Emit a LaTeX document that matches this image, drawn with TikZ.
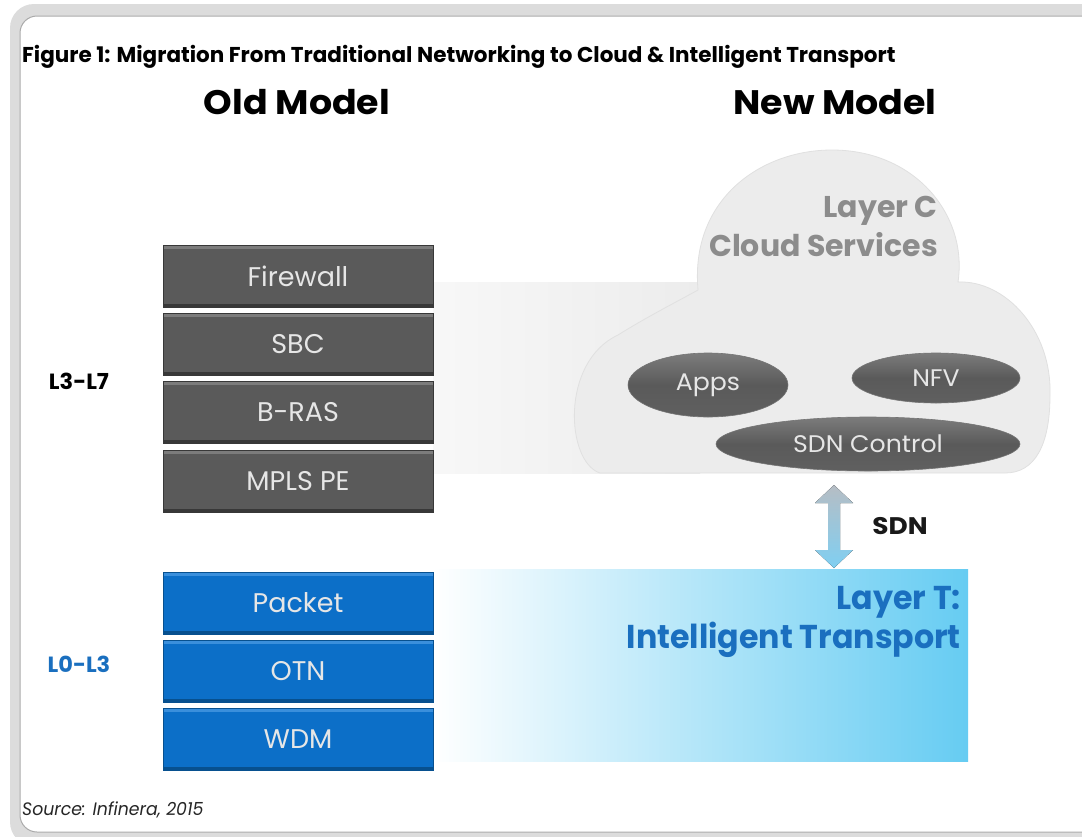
\documentclass[tikz,border=0pt]{standalone}
\usepackage{fontspec}
\setmainfont{Poppins}
\usetikzlibrary{shapes.geometric,calc}
\definecolor{framegray}{HTML}{DCDCDC}
\definecolor{frameline}{HTML}{ABABAB}
\definecolor{boxgray}{HTML}{5A5A5A}
\definecolor{boxgraylight}{HTML}{7C7C7C}
\definecolor{boxgraydark}{HTML}{383838}
\definecolor{boxblue}{HTML}{0C6FC8}
\definecolor{boxbluelight}{HTML}{3A8FDC}
\definecolor{boxbluedark}{HTML}{07508F}
\definecolor{boxtext}{HTML}{E6E6E6}
\definecolor{labelblue}{HTML}{1A6FBF}
\definecolor{cloudgray}{HTML}{ECECEC}
\definecolor{cloudtext}{HTML}{8C8C8C}
\definecolor{ltblue}{HTML}{66CCF2}
\definecolor{arrowtop}{HTML}{B6BDC4}
\definecolor{arrowbot}{HTML}{7FCFF2}
\newcommand{\sx}[2][0.86]{\scalebox{#1}[1]{#2}}
\tikzset{
  layerbox/.style={rectangle, minimum width=270pt, minimum height=62pt, inner sep=0pt,
    text=boxtext, font=\fontsize{27}{30}\selectfont},
  graybox/.style={layerbox, fill=boxgray, draw=boxgraydark, line width=1pt,
    path picture={
      \draw[boxgraylight, line width=3pt] ([yshift=-2pt]path picture bounding box.north west) -- ([yshift=-2pt]path picture bounding box.north east);
      \draw[boxgraydark, line width=3pt] ([yshift=2pt]path picture bounding box.south west) -- ([yshift=2pt]path picture bounding box.south east);}},
  bluebox/.style={layerbox, fill=boxblue, draw=boxbluedark, line width=1pt,
    path picture={
      \draw[boxbluelight, line width=3pt] ([yshift=-2pt]path picture bounding box.north west) -- ([yshift=-2pt]path picture bounding box.north east);
      \draw[boxbluedark, line width=3pt] ([yshift=2pt]path picture bounding box.south west) -- ([yshift=2pt]path picture bounding box.south east);}},
  pill/.style={ellipse, inner sep=0pt, top color=boxgraylight, bottom color=boxgraydark!80, middle color=boxgray,
    draw=boxgraydark!70, line width=0.6pt, text=boxtext, font=\fontsize{24}{28}\selectfont},
  heading/.style={font=\bfseries\fontsize{34}{38}\selectfont, text=black},
  sidelabel/.style={font=\bfseries\fontsize{22}{26}\selectfont},
  layertext/.style={align=right, anchor=north east, inner sep=0pt}
}
\begin{document}
\begin{tikzpicture}[x=1pt,y=-1pt]
\useasboundingbox (0,0) rectangle (1082,836);
% frame
\fill[white] (0,0) rectangle (1082,836);
\fill[framegray, rounded corners=24pt] (10,4) rectangle (1120,846);
\fill[white, rounded corners=17pt] (20,16) rectangle (1120,832);
\draw[frameline, line width=1pt, rounded corners=17pt] (1120,16) -- (20,16) -- (20,832) -- (1120,832);

% title
\node[anchor=base west, inner sep=0pt, font=\bfseries\fontsize{21.5}{24}\selectfont] (title) at (22,62) {\sx[1.0]{Figure 1: Migration From Traditional Networking to Cloud \& Intelligent Transport}};
\node[heading] (old) at (297,102) {\sx[1.07]{Old Model}};
\node[heading] (new) at (835,102) {\sx[1.07]{New Model}};

% gray band and cloud
\fill[left color=white!60!cloudgray, right color=cloudgray] (433,282) rectangle (700,473);
\path[fill=cloudgray, draw=cloudgray!95!black, line width=0.8pt]
  (600,473) .. controls (566,462) and (560,362) .. (618,335)
  .. controls (645,318) and (680,300) .. (698,290)
  .. controls (690,200) and (760,150) .. (832,150)
  .. controls (915,150) and (968,215) .. (958,282)
  .. controls (1005,280) and (1052,330) .. (1050,395)
  .. controls (1050,445) and (1035,473) .. (1005,473) -- cycle;

\node[layertext, text=cloudtext, font=\bfseries\fontsize{30}{39}\selectfont] (layerc) at (938,196) {\sx[1.0]{Layer C}\\\sx[1.0]{Cloud Services}};

\node[pill, minimum width=160pt, minimum height=64pt] (apps) at (708,385) {\sx[1.05]{Apps}};
\node[pill, minimum width=168pt, minimum height=50pt] (nfv) at (936,378) {\sx[1.05]{NFV}};
\node[pill, minimum width=304pt, minimum height=54pt] (sdnc) at (868,444) {\sx[1.05]{SDN Control}};

% layer T
\node[rectangle, inner sep=0pt, minimum width=535pt, minimum height=192pt, left color=white, right color=ltblue, anchor=north west] (layert) at (433,569) {};
\node[layertext, text=labelblue, font=\bfseries\fontsize{33}{39}\selectfont] (layerttext) at (961,586) {\sx[0.96]{Layer T:}\\\sx[0.96]{Intelligent Transport}};

% SDN arrow
\coordinate (atop) at (834,485);
\coordinate (abot) at (834,568);
\fill[top color=arrowtop, bottom color=arrowbot]
  (atop) -- ++(19,18) -- ++(-13,0) -- ++(0,47) -- ++(13,0) -- (abot) -- ++(-19,-18) -- ++(13,0) -- ++(0,-47) -- ++(-13,0) -- cycle;
\node[font=\bfseries\fontsize{24}{28}\selectfont, text=black!90] (sdn) at (900,526) {\sx[1.1]{SDN}};

% old model stacks
\node[graybox] (fw) at (298,276) {\sx[1.0]{Firewall}};
\node[graybox] (sbc) at (298,344) {\sx[1.0]{SBC}};
\node[graybox] (bras) at (298,412.5) {\sx[1.0]{B-RAS}};
\node[graybox] (mpls) at (298,481) {\sx[1.0]{MPLS PE}};
\node[bluebox] (packet) at (298,603) {\sx[1.0]{Packet}};
\node[bluebox] (otn) at (298,671) {\sx[1.0]{OTN}};
\node[bluebox] (wdm) at (298,739.5) {\sx[1.0]{WDM}};

\node[sidelabel, text=black] (l37) at (79,381) {\sx[1.02]{L3-L7}};
\node[sidelabel, text=labelblue] (l03) at (79,664) {\sx[1.02]{L0-L3}};

\node[anchor=base west, inner sep=0pt, font=\itshape\fontsize{18}{20}\selectfont, text=black!85] (src) at (22,815) {\sx[0.96]{Source: Infinera, 2015}};
\end{tikzpicture}
\end{document}
